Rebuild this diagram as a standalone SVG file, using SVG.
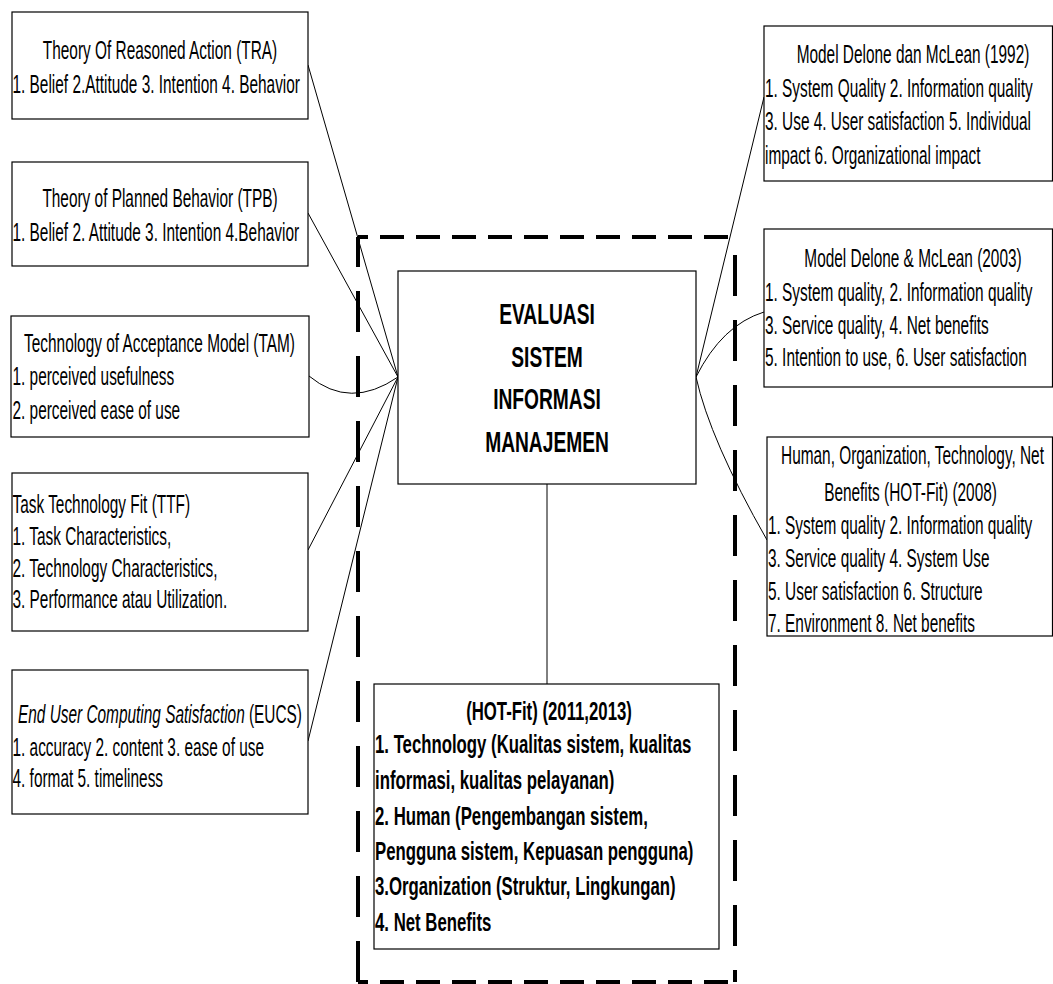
<svg xmlns="http://www.w3.org/2000/svg" width="1053" height="984" viewBox="0 0 1053 984">
<style>
.bg{fill:#fff}
.box{fill:#fff;stroke:#000;stroke-width:1.2}
.t{font-family:"Liberation Sans",Arial,sans-serif;font-size:26px;fill:#000}
.m{text-anchor:middle}
.b{font-weight:bold}
.c{font-size:30px}
.bb{font-size:26px}
.con{fill:none;stroke:#000;stroke-width:1}
.dh{fill:none;stroke:#000;stroke-width:4;stroke-dasharray:24 12;stroke-dashoffset:14}
.dv{fill:none;stroke:#000;stroke-width:4;stroke-dasharray:41 24}
</style>
<rect class="bg" x="0" y="0" width="1053" height="984"/>

<g id="frame">
<path class="dh" d="M358,237 H735"/>
<path class="dh" d="M358,982 H735"/>
<path class="dv" d="M358,982 V237"/>
<path class="dv" d="M735,237 V982" style="stroke-dashoffset:47"/>
</g>

<g id="connectors">
<path class="con" d="M308,65 L398,377"/>
<path class="con" d="M308,213 L398,377"/>
<path class="con" d="M309,376 Q350,410 398,377"/>
<path class="con" d="M308,550 L398,377"/>
<path class="con" d="M308,741 L398,377"/>
<path class="con" d="M696,377 L764,97"/>
<path class="con" d="M696,377 Q722,325 764,312"/>
<path class="con" d="M696,377 Q710,440 767,540"/>
<path class="con" d="M547,484 L547,684"/>
</g>

<g id="tra">
<rect class="box" x="12" y="12" width="296" height="107"/>
<text class="t m" transform="translate(160,58.5) scale(0.592,1)">Theory Of Reasoned Action (TRA)</text>
<text class="t" transform="translate(12.5,92.5) scale(0.592,1)">1. Belief 2.Attitude 3. Intention 4. Behavior</text>
</g>

<g id="tpb">
<rect class="box" x="12" y="162" width="296" height="104"/>
<text class="t m" transform="translate(160,207) scale(0.592,1)">Theory of Planned Behavior (TPB)</text>
<text class="t" transform="translate(12.5,241) scale(0.592,1)">1. Belief 2. Attitude 3. Intention 4.Behavior</text>
</g>

<g id="tam">
<rect class="box" x="11" y="316" width="298" height="121"/>
<text class="t m" transform="translate(159.5,351.5) scale(0.592,1)">Technology of Acceptance Model (TAM)</text>
<text class="t" transform="translate(12.5,385) scale(0.592,1)">1. perceived usefulness</text>
<text class="t" transform="translate(12.5,418.5) scale(0.592,1)">2. perceived ease of use</text>
</g>

<g id="ttf">
<rect class="box" x="12" y="473" width="296" height="158"/>
<text class="t" transform="translate(12.5,513) scale(0.592,1)">Task Technology Fit (TTF)</text>
<text class="t" transform="translate(12.5,545) scale(0.592,1)">1. Task Characteristics,</text>
<text class="t" transform="translate(12.5,576.5) scale(0.592,1)">2. Technology Characteristics,</text>
<text class="t" transform="translate(12.5,608) scale(0.592,1)">3. Performance atau Utilization.</text>
</g>

<g id="eucs">
<rect class="box" x="12" y="670" width="296" height="144"/>
<text class="t m" transform="translate(160,723) scale(0.592,1)"><tspan font-style="italic">End User Computing Satisfaction</tspan> (EUCS)</text>
<text class="t" transform="translate(12.5,756) scale(0.592,1)">1. accuracy 2. content 3. ease of use</text>
<text class="t" transform="translate(12.5,787) scale(0.592,1)">4. format 5. timeliness</text>
</g>

<g id="delone1992">
<rect class="box" x="764" y="26" width="288.5" height="155"/>
<text class="t m" transform="translate(913,63) scale(0.592,1)">Model Delone dan McLean (1992)</text>
<text class="t" transform="translate(765,97) scale(0.592,1)">1. System Quality 2. Information quality</text>
<text class="t" transform="translate(765,130) scale(0.592,1)">3. Use 4. User satisfaction 5. Individual</text>
<text class="t" transform="translate(765,163.5) scale(0.592,1)">impact 6. Organizational impact</text>
</g>

<g id="delone2003">
<rect class="box" x="764" y="229" width="288.5" height="158"/>
<text class="t m" transform="translate(913,267) scale(0.592,1)">Model Delone &amp; McLean (2003)</text>
<text class="t" transform="translate(765,301) scale(0.592,1)">1. System quality, 2. Information quality</text>
<text class="t" transform="translate(765,334) scale(0.592,1)">3. Service quality, 4. Net benefits</text>
<text class="t" transform="translate(765,366) scale(0.592,1)">5. Intention to use, 6. User satisfaction</text>
</g>

<g id="hotfit2008">
<rect class="box" x="767" y="437" width="285.5" height="199"/>
<text class="t m" transform="translate(912.5,464) scale(0.592,1)">Human, Organization, Technology, Net</text>
<text class="t m" transform="translate(910.5,500.5) scale(0.592,1)">Benefits (HOT-Fit) (2008)</text>
<text class="t" transform="translate(768,533.5) scale(0.592,1)">1. System quality 2. Information quality</text>
<text class="t" transform="translate(768,567) scale(0.592,1)">3. Service quality 4. System Use</text>
<text class="t" transform="translate(768,600) scale(0.592,1)">5. User satisfaction 6. Structure</text>
<text class="t" transform="translate(768,632) scale(0.592,1)">7. Environment 8. Net benefits</text>
</g>

<g id="evaluasi">
<rect class="box" x="398" y="271" width="298" height="213"/>
<text class="t m b c" transform="translate(547,324) scale(0.64,1)">EVALUASI</text>
<text class="t m b c" transform="translate(547,366.5) scale(0.64,1)">SISTEM</text>
<text class="t m b c" transform="translate(547,409) scale(0.64,1)">INFORMASI</text>
<text class="t m b c" transform="translate(547,451.5) scale(0.64,1)">MANAJEMEN</text>
</g>

<g id="hotfit2011">
<rect class="box" x="374" y="684" width="345" height="265"/>
<text class="t m b bb" transform="translate(549,720) scale(0.645,1)">(HOT-Fit) (2011,2013)</text>
<text class="t b bb" transform="translate(375,753) scale(0.645,1)">1. Technology (Kualitas sistem, kualitas</text>
<text class="t b bb" transform="translate(375,789) scale(0.645,1)">informasi, kualitas pelayanan)</text>
<text class="t b bb" transform="translate(375,825) scale(0.645,1)">2. Human (Pengembangan sistem,</text>
<text class="t b bb" transform="translate(375,860) scale(0.645,1)">Pengguna sistem, Kepuasan pengguna)</text>
<text class="t b bb" transform="translate(375,895) scale(0.645,1)">3.Organization (Struktur, Lingkungan)</text>
<text class="t b bb" transform="translate(375,931) scale(0.645,1)">4. Net Benefits</text>
</g>
</svg>
